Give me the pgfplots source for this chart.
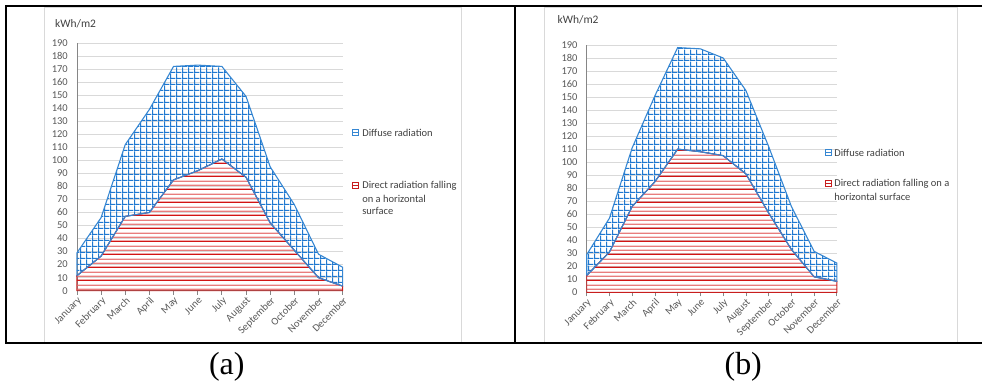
\documentclass[border=0pt]{standalone}
\usepackage{pgfplots}
\pgfplotsset{compat=1.18}
\usepackage{pgfplotstable}
\usepackage{fontspec}
\setmainfont{Liberation Serif}
\newfontfamily\carlito{Carlito}
\usetikzlibrary{patterns.meta}
\usepgfplotslibrary{fillbetween}

\definecolor{gridblue}{RGB}{31,120,208}
\definecolor{lineblue}{RGB}{55,135,210}
\definecolor{darkred}{RGB}{210,20,20}
\definecolor{pinkred}{RGB}{232,125,125}
\definecolor{redline}{RGB}{200,30,30}
\definecolor{gridgray}{RGB}{217,217,217}
\definecolor{axisgray}{RGB}{134,134,134}
\definecolor{txtgray}{RGB}{89,89,89}
\definecolor{legtxt}{RGB}{64,64,64}

\tikzdeclarepattern{
  name=bluegrid, type=uncolored,
  bottom left={(0bp,0bp)}, top right={(6.2bp,6.2bp)}, tile size={(6.2bp,6.2bp)},
  code={
    \pgfpathrectangle{\pgfpoint{0bp}{0bp}}{\pgfpoint{6.2bp}{1.2bp}}
    \pgfpathrectangle{\pgfpoint{0bp}{0bp}}{\pgfpoint{1.2bp}{6.2bp}}
    \pgfusepath{fill}
  }
}
\tikzdeclarepattern{
  name=redstripes, type=colored,
  bottom left={(0bp,0bp)}, top right={(4bp,12.6bp)}, tile size={(4bp,12.6bp)},
  code={
    \fill[darkred] (0bp,0bp) rectangle (4bp,1.3bp);
    \fill[pinkred] (0bp,4.2bp) rectangle (4bp,5.5bp);
    \fill[pinkred] (0bp,8.4bp) rectangle (4bp,9.7bp);
  }
}

\pgfplotstableread{
m tot dir
0 29 11.5
1 56 26.5
2 112 57
3 139 60
4 172 85
5 173 92
6 172 101
7 149 87
8 95 52
9 66 31
10 28 10
11 18 3.5
}\dataA

\pgfplotstableread{
m tot dir
0 29 13
1 57 31
2 111 66
3 151 85
4 188 110
5 187 108
6 180 105
7 155 91
8 112 61
9 66 33
10 31.5 12
11 22.5 8.5
}\dataB

\pgfplotsset{
  myaxis/.style={
    scale only axis, clip=false,
    xmin=0, xmax=11, ymin=0, ymax=190,
    xtick={0,...,11},
    xticklabels={January,February,March,April,May,June,July,August,September,October,November,December},
    ytick={0,10,...,190},
    axis x line*=bottom, axis y line*=left,
    axis line style={draw=axisgray, line width=0.75bp, -},
    ymajorgrids, grid style={draw=gridgray, line width=0.75bp},
    xtick align=outside, major tick length=4bp,
    xtick style={draw=axisgray, line width=0.75bp},
    ytick style={draw=none},
    tick label style={font=\carlito\fontsize{10.5bp}{12bp}\selectfont, text=txtgray},
    /pgf/number format/assume math mode=true,
    xticklabel style={rotate=45, anchor=north east, inner sep=1bp},
    yticklabel style={anchor=east, inner sep=0pt, xshift=-9bp},
  },
}
\tikzset{
  legtext/.style={anchor=west, inner sep=0pt, font=\carlito\fontsize{10.5bp}{12bp}\selectfont, text=legtxt},
}

\begin{document}
\begin{tikzpicture}[x=1bp,y=1bp]
\path (0,0) rectangle (983,382);

% chart area borders
\draw[gridgray, line width=0.75bp] (44,39.5) rectangle (462,375);
\draw[gridgray, line width=0.75bp] (545,39.5) rectangle (958,375);

% ---------------- (a)
\begin{axis}[myaxis, at={(77bp,91bp)}, anchor=south west, width=266bp, height=248bp]
  \addplot[name path=upA, draw=none, forget plot] table[x=m, y=tot] {\dataA};
  \addplot[name path=loA, draw=none, forget plot] table[x=m, y=dir] {\dataA};
  \addplot[draw=redline, line width=0.9bp, pattern=redstripes] table[x=m, y=dir] {\dataA} \closedcycle;
  \addplot[pattern=bluegrid, pattern color=gridblue, draw=lineblue, line width=1.1bp] fill between[of=upA and loA];
  \addplot[draw=lineblue, line width=1.1bp] table[x=m, y=dir] {\dataA};
\end{axis}

% ---------------- (b)
\begin{axis}[myaxis, at={(587.3bp,89.3bp)}, anchor=south west, width=250.4bp, height=247.7bp]
  \addplot[name path=upB, draw=none, forget plot] table[x=m, y=tot] {\dataB};
  \addplot[name path=loB, draw=none, forget plot] table[x=m, y=dir] {\dataB};
  \addplot[draw=redline, line width=0.9bp, pattern=redstripes] table[x=m, y=dir] {\dataB} \closedcycle;
  \addplot[pattern=bluegrid, pattern color=gridblue, draw=lineblue, line width=1.1bp] fill between[of=upB and loB];
  \addplot[draw=lineblue, line width=1.1bp] table[x=m, y=dir] {\dataB};
\end{axis}

% unit labels
\node[legtext, font=\carlito\fontsize{11.5bp}{13bp}\selectfont] at (55,358) {kWh/m2};
\node[legtext, font=\carlito\fontsize{11.5bp}{13bp}\selectfont] at (558,362) {kWh/m2};

% legends (a)
\draw[lineblue, line width=0.8bp, fill=white] (353,246) rectangle (359,252);
\draw[lineblue, line width=0.8bp] (353,249) -- (359,249);
\node[legtext] at (362.5,249) {Diffuse radiation};
\draw[redline, line width=0.8bp, fill=white] (353,193) rectangle (359,199);
\draw[redline, line width=0.8bp] (353,196) -- (359,196);
\node[legtext] at (362.5,196) {Direct radiation falling};
\node[legtext] at (362.5,183.3) {on a horizontal};
\node[legtext] at (362.5,171) {surface};

% legends (b)
\draw[lineblue, line width=0.8bp, fill=white] (826,226) rectangle (832,232);
\draw[lineblue, line width=0.8bp] (826,229) -- (832,229);
\node[legtext] at (835,229) {Diffuse radiation};
\draw[redline, line width=0.8bp, fill=white] (826,195) rectangle (832,201);
\draw[redline, line width=0.8bp] (826,198) -- (832,198);
\node[legtext] at (835,198) {Direct radiation falling on a};
\node[legtext] at (835,185.3) {horizontal surface};

% black frame
\draw[black, line width=2bp] (983,376.2) -- (5.8,376.2) -- (5.8,38.5) -- (983,38.5);
\draw[black, line width=2bp] (516,376.2) -- (516,38.5);

% captions
\node[anchor=base, inner sep=0pt, font=\fontsize{32bp}{34bp}\selectfont] at (227,7) {(a)};
\node[anchor=base, inner sep=0pt, font=\fontsize{32bp}{34bp}\selectfont] at (744,7) {(b)};
\end{tikzpicture}
\end{document}
